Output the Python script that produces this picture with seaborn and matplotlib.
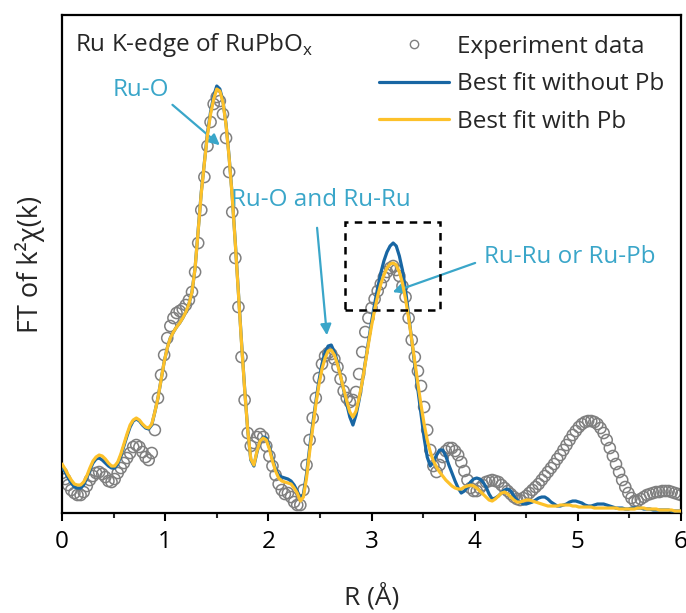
import numpy as np
import pandas as pd
import seaborn as sns
import matplotlib
matplotlib.use("Agg")
import matplotlib.pyplot as plt
from matplotlib.lines import Line2D
from matplotlib.patches import Rectangle

# |FT of k^2 chi(k)| on a uniform R grid (step 0.03 A, 0 .. 6 A)
r_step = 0.03

experiment = [
    0.40, 0.34, 0.28, 0.23, 0.20, 0.18, 0.18, 0.21, 0.27, 0.33,
    0.37, 0.40, 0.41, 0.39, 0.36, 0.32, 0.31, 0.34, 0.40, 0.45,
    0.50, 0.55, 0.60, 0.66, 0.68, 0.66, 0.61, 0.56, 0.53, 0.60,
    0.83, 1.15, 1.38, 1.58, 1.75, 1.87, 1.95, 2.00, 2.02, 2.04,
    2.08, 2.13, 2.21, 2.41, 2.70, 3.03, 3.36, 3.67, 3.91, 4.09,
    4.16, 4.12, 3.99, 3.75, 3.41, 3.01, 2.55, 2.06, 1.56, 1.13,
    0.80, 0.67, 0.70, 0.76, 0.79, 0.76, 0.67, 0.57, 0.47, 0.38,
    0.29, 0.23, 0.19, 0.20, 0.16, 0.11, 0.08, 0.08, 0.23, 0.48,
    0.73, 0.95, 1.15, 1.35, 1.49, 1.57, 1.60, 1.59, 1.54, 1.46,
    1.34, 1.22, 1.15, 1.11, 1.13, 1.21, 1.39, 1.61, 1.81, 1.95,
    2.05, 2.14, 2.22, 2.29, 2.36, 2.41, 2.45, 2.47, 2.43, 2.37,
    2.27, 2.16, 1.95, 1.73, 1.56, 1.42, 1.27, 1.06, 0.83, 0.63,
    0.47, 0.41, 0.48, 0.56, 0.62, 0.65, 0.65, 0.62, 0.58, 0.51,
    0.42, 0.33, 0.25, 0.22, 0.22, 0.25, 0.28, 0.31, 0.32, 0.33,
    0.32, 0.31, 0.28, 0.25, 0.22, 0.19, 0.16, 0.14, 0.13, 0.15,
    0.17, 0.20, 0.23, 0.26, 0.29, 0.33, 0.37, 0.41, 0.45, 0.49,
    0.54, 0.58, 0.63, 0.68, 0.73, 0.78, 0.82, 0.86, 0.89, 0.91,
    0.92, 0.92, 0.91, 0.89, 0.85, 0.80, 0.73, 0.65, 0.57, 0.49,
    0.41, 0.33, 0.26, 0.20, 0.15, 0.12, 0.12, 0.14, 0.16, 0.18,
    0.19, 0.20, 0.21, 0.21, 0.22, 0.22, 0.22, 0.21, 0.20, 0.19,
    0.18,
]

fit_without_pb = [
    0.46, 0.41, 0.35, 0.30, 0.26, 0.25, 0.25, 0.28, 0.35, 0.43,
    0.50, 0.54, 0.55, 0.53, 0.50, 0.47, 0.45, 0.45, 0.49, 0.57,
    0.67, 0.77, 0.86, 0.92, 0.94, 0.92, 0.88, 0.85, 0.84, 0.88,
    1.01, 1.15, 1.33, 1.51, 1.65, 1.75, 1.81, 1.86, 1.90, 1.95,
    2.01, 2.09, 2.21, 2.45, 2.83, 3.21, 3.51, 3.80, 4.01, 4.17,
    4.27, 4.24, 4.12, 3.89, 3.56, 3.17, 2.70, 2.20, 1.71, 1.25,
    0.83, 0.53, 0.47, 0.61, 0.72, 0.76, 0.75, 0.66, 0.54, 0.44,
    0.38, 0.36, 0.35, 0.34, 0.32, 0.28, 0.22, 0.14, 0.19, 0.39,
    0.65, 0.89, 1.11, 1.32, 1.49, 1.61, 1.67, 1.68, 1.61, 1.51,
    1.37, 1.23, 1.09, 0.96, 0.88, 0.98, 1.13, 1.31, 1.51, 1.71,
    1.91, 2.09, 2.25, 2.40, 2.52, 2.61, 2.67, 2.70, 2.67, 2.57,
    2.43, 2.23, 1.98, 1.73, 1.47, 1.23, 0.99, 0.75, 0.56, 0.47,
    0.51, 0.58, 0.63, 0.63, 0.57, 0.48, 0.40, 0.32, 0.25, 0.20,
    0.22, 0.26, 0.31, 0.34, 0.35, 0.34, 0.31, 0.26, 0.19, 0.14,
    0.15, 0.17, 0.20, 0.23, 0.24, 0.22, 0.17, 0.13, 0.11, 0.09,
    0.09, 0.10, 0.11, 0.13, 0.15, 0.16, 0.16, 0.14, 0.11, 0.09,
    0.07, 0.07, 0.08, 0.09, 0.11, 0.12, 0.12, 0.11, 0.10, 0.08,
    0.07, 0.07, 0.08, 0.09, 0.09, 0.09, 0.08, 0.07, 0.06, 0.05,
    0.05, 0.05, 0.04, 0.04, 0.05, 0.05, 0.05, 0.05, 0.04, 0.04,
    0.04, 0.03, 0.03, 0.03, 0.03, 0.03, 0.03, 0.02, 0.02, 0.02,
    0.02,
]

fit_with_pb = [
    0.49, 0.44, 0.38, 0.33, 0.29, 0.28, 0.28, 0.31, 0.37, 0.45,
    0.52, 0.56, 0.58, 0.57, 0.54, 0.50, 0.47, 0.47, 0.51, 0.59,
    0.69, 0.79, 0.88, 0.93, 0.95, 0.93, 0.89, 0.86, 0.85, 0.89,
    1.01, 1.15, 1.33, 1.51, 1.65, 1.75, 1.81, 1.86, 1.90, 1.95,
    2.01, 2.09, 2.21, 2.45, 2.83, 3.20, 3.50, 3.78, 3.99, 4.14,
    4.24, 4.22, 4.11, 3.88, 3.55, 3.16, 2.69, 2.19, 1.70, 1.24,
    0.83, 0.54, 0.48, 0.62, 0.72, 0.75, 0.73, 0.64, 0.52, 0.42,
    0.35, 0.32, 0.31, 0.30, 0.29, 0.25, 0.20, 0.12, 0.16, 0.35,
    0.61, 0.85, 1.08, 1.28, 1.44, 1.55, 1.62, 1.63, 1.58, 1.49,
    1.37, 1.24, 1.12, 1.01, 0.96, 1.02, 1.15, 1.31, 1.50, 1.69,
    1.87, 2.03, 2.17, 2.29, 2.38, 2.45, 2.49, 2.50, 2.48, 2.41,
    2.30, 2.14, 1.95, 1.73, 1.51, 1.29, 1.08, 0.89, 0.73, 0.61,
    0.52, 0.46, 0.41, 0.37, 0.33, 0.30, 0.27, 0.25, 0.24, 0.24,
    0.26, 0.27, 0.28, 0.27, 0.25, 0.22, 0.19, 0.16, 0.13, 0.12,
    0.14, 0.17, 0.20, 0.21, 0.19, 0.16, 0.13, 0.11, 0.11, 0.12,
    0.13, 0.13, 0.12, 0.11, 0.10, 0.09, 0.08, 0.07, 0.07, 0.07,
    0.07, 0.08, 0.08, 0.08, 0.08, 0.07, 0.07, 0.06, 0.06, 0.06,
    0.06, 0.06, 0.05, 0.05, 0.05, 0.05, 0.05, 0.05, 0.05, 0.05,
    0.04, 0.04, 0.04, 0.04, 0.04, 0.04, 0.05, 0.05, 0.05, 0.04,
    0.04, 0.04, 0.04, 0.03, 0.03, 0.03, 0.03, 0.03, 0.02, 0.02,
    0.02,
]

x_ticks = [0, 1, 2, 3, 4, 5, 6]
legend_labels = ["Experiment data", "Best fit without Pb", "Best fit with Pb"]
title_text = "Ru K-edge of RuPbO$_\\mathregular{x}$"
peak_labels = ["Ru-O", "Ru-O and Ru-Ru", "Ru-Ru or Ru-Pb"]

r = np.arange(len(experiment)) * r_step
df = pd.DataFrame({
    "R": r,
    "exp": experiment,
    "no_pb": fit_without_pb,
    "pb": fit_with_pb,
})

sns.set_theme(style="ticks")
plt.rcParams["font.family"] = ["Open Sans", "DejaVu Sans"]
plt.rcParams["mathtext.fontset"] = "custom"
plt.rcParams["mathtext.rm"] = "Open Sans"

c_exp = "#7f7f7f"
c_blue = "#1866a3"
c_yellow = "#fdc12a"
c_note = "#3aa6c9"

fig = plt.figure(figsize=(6.86, 6.13), dpi=100)
ax = fig.add_axes([0.0904, 0.1631, 0.9023, 0.8124])

sns.scatterplot(data=df, x="R", y="exp", ax=ax, marker="o", s=64,
                facecolors="none", edgecolors=c_exp, linewidth=1.1,
                zorder=2, legend=False)
sns.lineplot(data=df, x="R", y="no_pb", ax=ax, color=c_blue, lw=2.3,
             zorder=3, legend=False)
sns.lineplot(data=df, x="R", y="pb", ax=ax, color=c_yellow, lw=2.3,
             zorder=4, legend=False)

ax.set_xlim(0, 6)
ax.set_ylim(0, 4.98)
ax.set_xticks(x_ticks)
ax.set_xticks(np.arange(0.5, 6, 1.0), minor=True)
ax.set_yticks([])
ax.tick_params(axis="x", which="major", direction="out", length=6, width=1.5,
               labelsize=17.5, pad=6, colors="black")
ax.tick_params(axis="x", which="minor", direction="out", length=3.5, width=1.5)
for s in ax.spines.values():
    s.set_visible(True)
    s.set_linewidth(1.6)
    s.set_color("black")

ax.set_xlabel("R (Å)", fontsize=19, labelpad=21)
ax.set_ylabel("FT of k²χ(k)", fontsize=19.5, labelpad=12)

ax.text(0.021, 0.94, title_text, transform=ax.transAxes, fontsize=17.5,
        ha="left", va="center")

# peak assignments
ax.annotate("", xy=(1.55, 3.66), xytext=(1.05, 4.10),
            arrowprops=dict(arrowstyle="-|>", color=c_note, lw=1.6,
                            mutation_scale=16))
ax.text(0.76, 4.23, peak_labels[0], color=c_note, fontsize=17.5,
        ha="center", va="center")

ax.annotate("", xy=(2.57, 1.75), xytext=(2.47, 2.88),
            arrowprops=dict(arrowstyle="-|>", color=c_note, lw=1.6,
                            mutation_scale=16))
ax.text(2.51, 3.13, peak_labels[1], color=c_note, fontsize=17.5,
        ha="center", va="center")

ax.annotate("", xy=(3.18, 2.20), xytext=(4.03, 2.51),
            arrowprops=dict(arrowstyle="-|>", color=c_note, lw=1.6,
                            mutation_scale=16))
ax.text(4.92, 2.56, peak_labels[2], color=c_note, fontsize=17.5,
        ha="center", va="center")

ax.add_patch(Rectangle((2.74, 2.03), 0.92, 0.88, fill=False, ec="black",
                       lw=1.8, ls=(0, (3, 2.5)), zorder=5))

handles = [
    Line2D([], [], ls="", marker="o", ms=6, mfc="none", mec=c_exp, mew=1.0),
    Line2D([], [], color=c_blue, lw=2.3),
    Line2D([], [], color=c_yellow, lw=2.3),
]
ax.legend(handles, legend_labels, loc="upper left",
          bbox_to_anchor=(0.512, 0.960), frameon=False, fontsize=17.5,
          handlelength=2.9, handletextpad=0.3, labelspacing=0.55,
          borderaxespad=0, borderpad=0)

fig.savefig("out.png", dpi=100)
